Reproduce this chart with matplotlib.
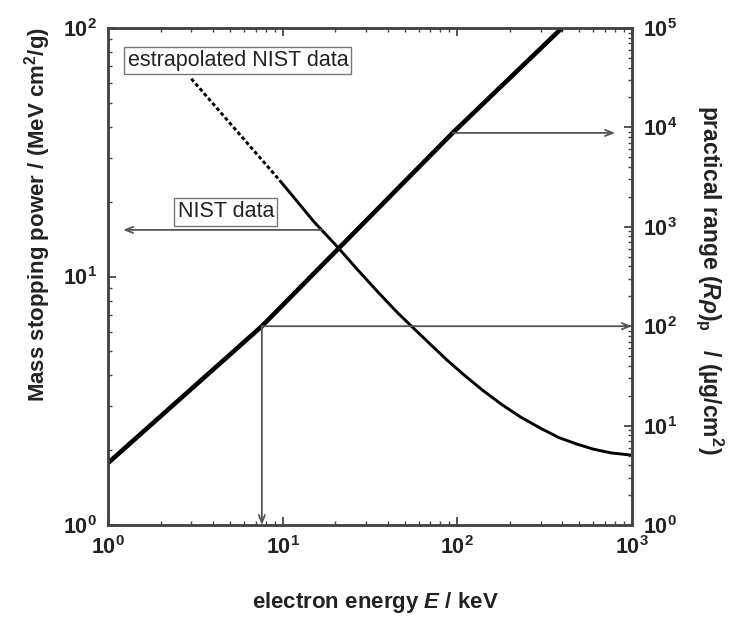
import matplotlib
matplotlib.use("Agg")
import matplotlib.pyplot as plt
from matplotlib.ticker import FixedLocator, FixedFormatter, LogLocator, NullFormatter

plt.rcParams['font.family'] = ['Liberation Sans', 'DejaVu Sans']
plt.rcParams['mathtext.fontset'] = 'custom'
plt.rcParams['mathtext.rm'] = 'Liberation Sans:bold'
plt.rcParams['mathtext.bf'] = 'Liberation Sans:bold'
plt.rcParams['mathtext.it'] = 'Liberation Sans:bold:italic'

# stopping power (NIST), solid part
E_nist = [9.6, 12, 15, 20.7, 27, 35, 45, 55, 70, 87, 110, 140, 180, 230, 300, 380, 480, 600, 760, 1000]
S_nist = [24.4, 20.2, 16.7, 13.1, 10.6, 8.68, 7.2, 6.28, 5.34, 4.62, 4.0, 3.48, 3.05, 2.72,
          2.45, 2.25, 2.12, 2.02, 1.95, 1.91]
# extrapolated part (dotted)
E_extra = [3.0, 9.6]
S_extra = [62.5, 24.4]

# practical range, right axis
E_range = [1, 7.6, 94, 397]
R_range = [4.2, 100, 8800, 1e5]

# arrow anchors
E_mark = 7.6
R_mark = 100
E_mark2 = 94
R_mark2 = 8800
E_nist_arrow = [17, 1.22]
S_nist_arrow = 15.4

x_ticks = [1, 10, 100, 1000]
x_labels = [r'$\mathbf{10^{0}}$', r'$\mathbf{10^{1}}$', r'$\mathbf{10^{2}}$', r'$\mathbf{10^{3}}$']
yl_ticks = [1, 10, 100]
yl_labels = [r'$\mathbf{10^{0}}$', r'$\mathbf{10^{1}}$', r'$\mathbf{10^{2}}$']
yr_ticks = [1, 10, 100, 1e3, 1e4, 1e5]
yr_labels = [r'$\mathbf{10^{%d}}$' % i for i in range(6)]

spine_col = '#444444'
arrow_col = '#555555'
text_col = '#222222'

fig = plt.figure(figsize=(7.33, 6.19), dpi=100)
ax = fig.add_axes([108/733, 1 - 525/619, 524/733, 497/619])
ax2 = ax.twinx()

ax.set_xscale('log')
ax.set_yscale('log')
ax2.set_yscale('log')
ax.set_xlim(1, 1000)
ax.set_ylim(1, 100)
ax2.set_ylim(1, 1e5)

ax.plot(E_nist, S_nist, color='black', lw=2.1, solid_capstyle='butt')
ax.plot(E_extra, S_extra, color='black', lw=2.1, ls=(0, (1.3, 0.9)))
ax2.plot(E_range, R_range, color='black', lw=3.3, solid_capstyle='butt')

ap = dict(arrowstyle='->,head_length=0.55,head_width=0.22', color=arrow_col, lw=1.3,
          shrinkA=0, shrinkB=0)
ax2.annotate('', xy=(1000, R_mark), xytext=(E_mark, R_mark), arrowprops=ap)
ax2.annotate('', xy=(E_mark, 1), xytext=(E_mark, R_mark), arrowprops=ap)
ax2.annotate('', xy=(800, R_mark2), xytext=(E_mark2, R_mark2), arrowprops=ap)
ax.annotate('', xy=(E_nist_arrow[1], S_nist_arrow), xytext=(E_nist_arrow[0], S_nist_arrow),
            arrowprops=ap)

box = dict(boxstyle='square,pad=0.15', fc='white', ec='#777777', lw=1.0)
ax.text(0.248, 0.935, 'estrapolated NIST data', transform=ax.transAxes, fontsize=15.5,
        ha='center', va='center', color=text_col, bbox=box)
ax.text(0.225, 0.63, 'NIST data', transform=ax.transAxes, fontsize=15.5,
        ha='center', va='center', color=text_col, bbox=box)

for a in (ax, ax2):
    for s in a.spines.values():
        s.set_color(spine_col)
        s.set_linewidth(1.8)

ax.xaxis.set_major_locator(FixedLocator(x_ticks))
ax.xaxis.set_major_formatter(FixedFormatter(x_labels))
ax.xaxis.set_minor_locator(LogLocator(base=10, subs=range(2, 10)))
ax.xaxis.set_minor_formatter(NullFormatter())
ax.yaxis.set_major_locator(FixedLocator(yl_ticks))
ax.yaxis.set_major_formatter(FixedFormatter(yl_labels))
ax.yaxis.set_minor_locator(LogLocator(base=10, subs=range(2, 10)))
ax.yaxis.set_minor_formatter(NullFormatter())
ax2.yaxis.set_major_locator(FixedLocator(yr_ticks))
ax2.yaxis.set_major_formatter(FixedFormatter(yr_labels))
ax2.yaxis.set_minor_locator(LogLocator(base=10, subs=range(2, 10)))
ax2.yaxis.set_minor_formatter(NullFormatter())

ax.tick_params(which='both', direction='in', top=True, right=False, color=spine_col,
               labelsize=15.5, labelcolor=text_col)
ax.tick_params(which='major', length=6, width=1.3, pad=8)
ax.tick_params(which='minor', length=3, width=1.0)
ax2.tick_params(which='both', direction='in', color=spine_col, labelsize=15.5, labelcolor=text_col)
ax2.tick_params(which='major', length=6, width=1.3, pad=8)
ax2.tick_params(which='minor', length=3, width=1.0)

ax.set_xlabel(r'electron energy $\mathit{E}$ / keV', fontsize=16, fontweight='bold',
              color=text_col, va='center')
ax.xaxis.set_label_coords(0.511, -0.155)
ax.set_ylabel(r'Mass stopping power / (MeV cm$^\mathrm{2}$/g)', fontsize=16,
              fontweight='bold', color=text_col, va='center')
ax.yaxis.set_label_coords(-0.134, 0.624)
ax2.set_ylabel(r'practical range ($\mathit{R\rho}$)$_\mathrm{p}$   / (µg/cm$^\mathrm{2}$)',
               fontsize=16.5, fontweight='bold', color=text_col, rotation=270, va='center')
ax2.yaxis.set_label_coords(1.149, 0.493)

fig.savefig('out.png', dpi=100)
